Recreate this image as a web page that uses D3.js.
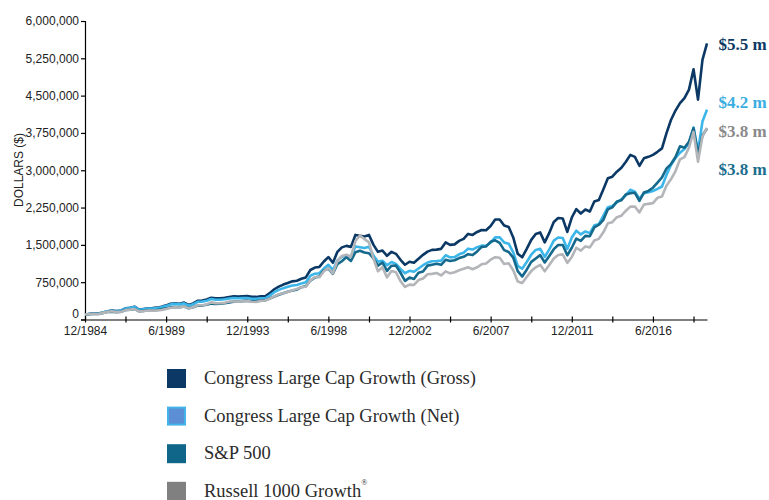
<!DOCTYPE html>
<html>
<head>
<meta charset="utf-8">
<script src="https://cdn.jsdelivr.net/npm/d3@7"></script>
<style>
  html, body { margin: 0; padding: 0; background: #fff; }
  svg { display: block; }
</style>
</head>
<body>
<svg id="chart" width="769" height="500"></svg>
<script>
// Quarterly values in thousands of dollars, 12/1984 .. 6/2019 (139 quarters)
const firstQuarter = new Date(1984, 11, 1);
const quarterCount = 139;

const grossValues = [100,
111,123,120,142, 166,178,168,182, 224,238,258,200, 212,226,228,238,
257,284,316,328, 318,341,292,323, 376,381,401,438, 424,425,436,454,
467,462,466,470, 455,454,468,468, 530,608,662,702, 734,767,779,818,
846,995,1044,1057, 1165,1255,1140,1360, 1450,1480,1460,1700, 1685,1670,1700,1500,
1360,1385,1280,1360, 1320,1200,1100,1160, 1140,1220,1300,1365, 1400,1405,1420,1550,
1500,1510,1580,1620, 1720,1700,1760,1800, 1795,1880,2010,2010, 1890,1860,1650,1320,
1250,1420,1600,1720, 1750,1550,1740,1960, 2040,2030,1760,2050, 2220,2130,2210,2170,
2370,2400,2620,2840, 2870,2970,3050,3170, 3310,3270,3090,3240, 3270,3310,3370,3440,
3740,4010,4200,4350, 4450,4620,5030,4420, 5220,5550];

const netValues = [100,
111,123,119,141, 165,176,166,179, 220,234,253,195, 207,220,221,230,
248,274,304,314, 304,325,278,306, 356,359,377,411, 397,397,406,421,
432,426,429,431, 417,414,426,425, 480,549,596,630, 658,685,694,726,
750,880,921,930, 1023,1099,996,1186, 1262,1285,1264,1469, 1452,1436,1460,1286,
1163,1181,1091,1156, 1119,1016,930,979, 960,1026,1091,1144, 1172,1175,1184,1291,
1248,1255,1311,1343, 1424,1406,1454,1485, 1479,1547,1652,1650, 1550,1523,1350,1078,
1020,1157,1302,1398, 1421,1257,1409,1586, 1648,1638,1419,1650, 1785,1710,1770,1736,
1894,1915,2086,2258, 2279,2352,2413,2501, 2608,2570,2426,2537, 2557,2582,2625,2673,
2902,3104,3247,3354, 3427,3548,3858,3381, 3980,4218];

const sp500Values = [100,
109.2,117.2,112.4,131.7, 150.3,159.1,148.0,156.3, 189.6,199.1,212.2,164.5, 173.9,185.3,185.9,191.7,
205.3,223.4,247.3,252.5, 244.9,260.3,224.7,244.9, 280.4,279.8,294.7,319.4, 311.4,317.3,327.5,343.9,
359.0,360.8,370.2,378.7, 364.3,365.8,383.7,383.7, 420.9,460.9,497.8,527.7, 556.2,581.2,599.2,649.0,
666.5,783.2,841.9,866.3, 987.6,1020.2,919.2,1115.0, 1170.8,1253.9,1176.2,1351.4, 1382.5,1345.2,1331.7,1227.8,
1081.7,1145.5,977.1,1081.7, 1084.9,939.5,777.0,842.3, 815.3,940.9,965.3,1083.1, 1101.5,1120.2,1098.9,1200.0,
1174.8,1191.2,1234.1,1260.0, 1312.9,1294.5,1368.3,1460.0, 1468.8,1561.3,1592.6,1540.0, 1395.2,1357.6,1243.6,971.2,
864.4,1001.8,1158.1,1227.6, 1293.9,1146.4,1276.0,1413.8, 1497.2,1498.7,1290.4,1442.7, 1624.5,1579.0,1680.1,1673.4,
1850.8,1904.5,2003.5,2213.9, 2253.8,2371.0,2397.1,2514.5, 2539.6,2547.3,2384.2,2551.1, 2584.3,2648.9,2752.2,2856.8,
3031.0,3125.0,3265.6,3481.1, 3453.3,3570.7,3845.6,3326.5, 3700,3840];

const russellValues = [100,
108.0,115.1,109.9,133.1, 153.6,164.2,148.4,153.6, 188.9,198.4,210.3,161.9, 169.2,179.3,177.5,180.2,
191.9,211.1,236.4,244.7, 241.0,262.7,222.0,244.2, 290.6,286.2,303.4,344.4, 328.9,325.6,337.0,362.3,
362.3,358.7,365.9,373.2, 358.3,352.9,374.1,383.4, 419.8,463.9,508.0,528.3, 554.7,588.0,611.5,651.3,
657.8,786.1,852.9,848.6, 971.7,1034.9,926.2,1176.3, 1277.5,1303.1,1261.4,1576.8, 1688.7,1616.1,1551.4,1225.6,
969.5,1050.9,847.0,974.9, 949.5,772.0,655.4,701.9, 694.2,793.5,824.4,910.1, 917.4,934.8,886.2,967.7,
928.0,951.2,989.3,1019.0, 1050.6,1009.6,1049.0,1110.9, 1124.2,1201.8,1252.2,1242.2, 1115.5,1130.0,991.0,765.1,
733.7,853.3,972.8,1049.6, 1098.9,969.2,1095.2,1224.4, 1297.9,1308.3,1136.9,1257.4, 1442.3,1384.6,1469.0,1449.9,
1587.6,1621.0,1752.3,1934.5, 1955.8,2055.5,2086.4,2186.5, 2269.6,2271.9,2151.5,2308.6, 2324.8,2338.7,2446.3,2470.8,
2690.7,2817.2,2983.4,3219.1, 3264.2,3453.5,3771.2,3171.6, 3682.2,3851.6];

const seriesNames = ["Congress Large Cap Growth (Gross)", "Congress Large Cap Growth (Net)", "S&P 500", "Russell 1000 Growth"];
const endLabels = ["$5.5 m", "$4.2 m", "$3.8 m", "$3.8 m"];
const yTickValues = [0, 750, 1500, 2250, 3000, 3750, 4500, 5250, 6000]; // thousands
const yAxisTitle = "DOLLARS ($)";

// styling
const lineColors = ["#0b3864", "#3cb6e9", "#14698c", "#b3b5b8"];
const labelColors = ["#0d3a63", "#3aaee0", "#8a8a8a", "#1d6e8e"];
const swatchFill = ["#0b3864", "#5b8ed5", "#0f6689", "#808080"];
const swatchStroke = [null, "#42b4ea", null, null];

const dates = d3.range(quarterCount).map(i => d3.timeMonth.offset(firstQuarter, 3 * i));
const allSeries = [grossValues, netValues, sp500Values, russellValues];

const svg = d3.select("#chart");
const sans = "'Liberation Sans', Arial, sans-serif";
const serif = "'Liberation Serif', 'Times New Roman', serif";

const x = d3.scaleTime().domain([dates[0], dates[quarterCount - 1]]).range([85, 707]);
const y = d3.scaleLinear().domain([0, 6000]).range([319.5, 21]);

// Y axis
const yAxis = d3.axisLeft(y).tickValues(yTickValues).tickSize(4).tickPadding(2)
  .tickFormat(v => d3.format(",")(v * 1000));
const gy = svg.append("g").attr("transform", "translate(85,0)").call(yAxis);
gy.select(".domain").attr("stroke", "#000").attr("stroke-width", 1.2);
gy.selectAll(".tick line").attr("stroke", "#000").attr("stroke-width", 1.2);
gy.selectAll(".tick text").attr("font-family", sans).attr("font-size", 12).attr("fill", "#222");
gy.selectAll(".tick text").filter(d => d === 0).attr("dy", "-0.2em");

// X axis
const xTicks = dates.filter((d, i) => i % 9 === 0);
const labelTicks = dates.filter((d, i) => i % 18 === 0).map(d => +d);
const xAxis = d3.axisBottom(x).tickValues(xTicks).tickSizeInner(3).tickSizeOuter(0).tickPadding(4)
  .tickFormat(d => labelTicks.includes(+d) ? d3.timeFormat("%-m/%Y")(d) : "");
const gx = svg.append("g").attr("transform", "translate(0,319.5)").call(xAxis);
gx.select(".domain").attr("stroke", "#000").attr("stroke-width", 1.2);
gx.selectAll(".tick line").attr("y1", -3).attr("stroke", "#000").attr("stroke-width", 1.2);
gx.selectAll(".tick text").attr("font-family", sans).attr("font-size", 12).attr("fill", "#222");

// Y axis title
svg.append("text")
  .attr("transform", "translate(23,170) rotate(-90)")
  .attr("text-anchor", "middle")
  .attr("font-family", sans).attr("font-size", 12).attr("fill", "#222")
  .text(yAxisTitle);

// Lines
const line = d3.line().x((d, i) => x(dates[i])).y(d => y(d));
allSeries.forEach((vals, k) => {
  svg.append("path")
    .attr("d", line(vals))
    .attr("fill", "none")
    .attr("stroke", lineColors[k])
    .attr("stroke-width", 2.6)
    .attr("stroke-linejoin", "round");
});

// End labels
const endLabelY = [49.5, 107.5, 137, 175];
const endLabelOrder = [0, 1, 3, 2]; // gross, net, russell(gray), s&p(teal)
endLabelOrder.forEach((k, j) => {
  svg.append("text")
    .attr("x", 718.5).attr("y", endLabelY[j])
    .attr("font-family", serif).attr("font-weight", "bold").attr("font-size", 17)
    .attr("fill", labelColors[j])
    .text(endLabels[j]);
});

// Legend
const legend = svg.append("g");
seriesNames.forEach((name, k) => {
  const top = 369 + k * 37.6;
  const sw = legend.append("rect")
    .attr("x", 167).attr("y", top).attr("width", 19).attr("height", 19)
    .attr("fill", swatchFill[k]);
  if (swatchStroke[k]) {
    sw.attr("x", 168).attr("y", top + 1).attr("width", 17).attr("height", 17)
      .attr("stroke", swatchStroke[k]).attr("stroke-width", 2);
  }
  const t = legend.append("text")
    .attr("x", 204).attr("y", top + 15)
    .attr("font-family", serif).attr("font-size", 18.5).attr("fill", "#2b2b2b")
    .text(name);
  if (k === 3) {
    t.append("tspan").attr("dy", -12).attr("font-size", 8).text("®");
  }
});
</script>
</body>
</html>
